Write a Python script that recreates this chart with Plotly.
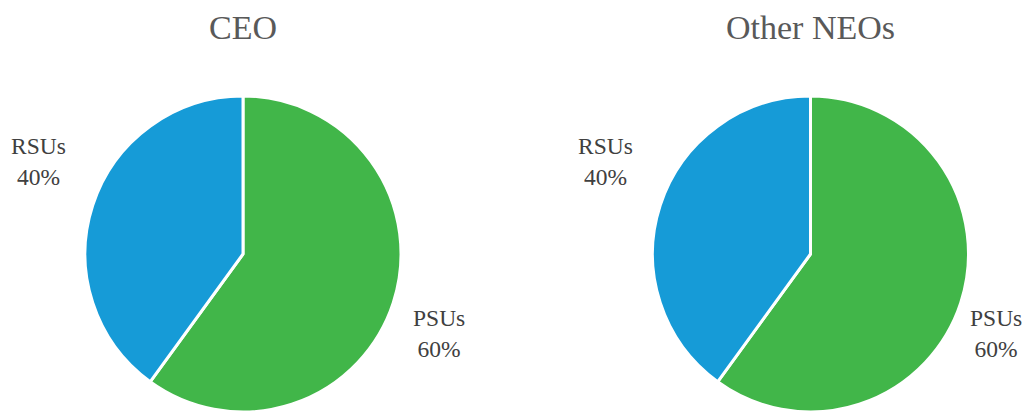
import plotly.graph_objects as go

titles = ["CEO", "Other NEOs"]
labels = ["PSUs", "RSUs"]
ceo_values = [60, 40]
neo_values = [60, 40]
colors = ["#41B649", "#169BD7"]

W, H = 1033, 415
OFF = 8  # page body margin offset, compensated
VISIBLE_RIGHT = 1024  # rightmost visible window pixel
# pie placement in window pixels: (center x, center y, radius)
pies = [(243, 254, 158), (810.5, 254, 158)]
# label offsets from pie center in pixels, per slice
label_offsets = {"PSUs": (196, 79), "RSUs": (-205, -93)}
LABEL_HALF_W = 28


def px(x):
    return (x - OFF) / W


def py(y):
    return 1 - (y - OFF) / H


fig = go.Figure()
for vals, (cx, cy, r), title in zip([ceo_values, neo_values], pies, titles):
    dom = dict(x=[px(cx - r), px(cx + r)], y=[py(cy + r), py(cy - r)])
    fig.add_trace(go.Pie(
        labels=labels, values=vals, domain=dom, sort=False, direction="clockwise",
        rotation=0, marker=dict(colors=colors, line=dict(color="white", width=3)),
        textinfo="none", showlegend=False, hoverinfo="label+percent",
    ))
    total = sum(vals)
    for lab, v in zip(labels, vals):
        dx, dy = label_offsets[lab]
        lx = min(cx + dx, VISIBLE_RIGHT - LABEL_HALF_W)
        fig.add_annotation(text=f"{lab}<br>{round(100 * v / total)}%",
                           x=px(lx), y=py(cy + dy), xref="paper", yref="paper",
                           xanchor="center", yanchor="middle", showarrow=False, align="center",
                           font=dict(family="Liberation Serif", size=23.5, color="#404040"))
    fig.add_annotation(text=title, x=px(cx), y=1.0, xref="paper", yref="paper",
                       xanchor="center", yanchor="top", yshift=0, borderpad=0, showarrow=False,
                       font=dict(family="Liberation Serif", size=34, color="#595959"))

fig.update_layout(width=W, height=H, margin=dict(l=0, r=0, t=0, b=0),
                  paper_bgcolor="white", plot_bgcolor="white")
fig.write_html("out.html")
